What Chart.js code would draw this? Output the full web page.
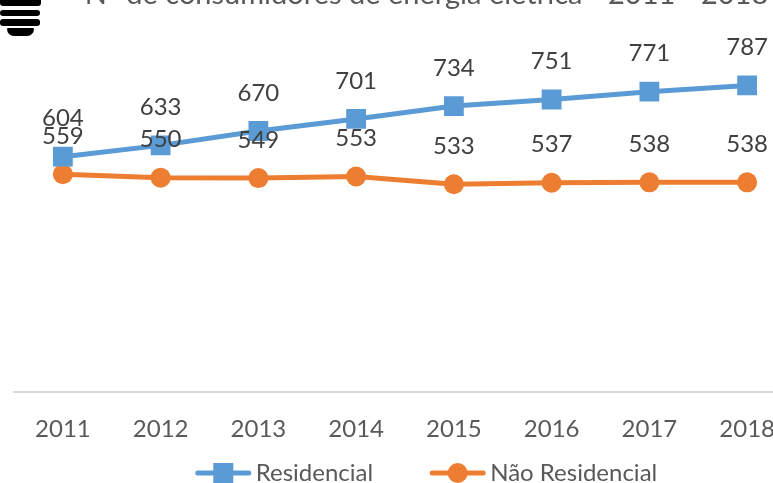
<!DOCTYPE html>
<html>
<head>
<meta charset="utf-8">
<script src="https://cdn.jsdelivr.net/npm/chart.js@4/dist/chart.umd.min.js"></script>
<style>
  html, body { margin: 0; padding: 0; background: #ffffff; overflow: hidden; }
  body { width: 773px; height: 483px; position: relative; }
  #wrap { position: absolute; left: 0; top: -30px; width: 853px; height: 513px; }
  .menu { position: absolute; background: #000; }
</style>
</head>
<body>
<div id="wrap"><canvas id="chart"></canvas></div>
<div class="menu" style="left:0;top:0;width:41px;height:6px;border-radius:0 0 3px 3px;"></div>
<div class="menu" style="left:0;top:10px;width:40px;height:6px;border-radius:3px;"></div>
<div class="menu" style="left:0;top:19px;width:40px;height:7px;border-radius:3px;"></div>
<div class="menu" style="left:7px;top:28px;width:27px;height:8px;border-radius:2px 2px 13px 13px;"></div>
<script>
const titleText = 'N° de consumidores de energia elétrica - 2011 - 2018';
const years = ['2011', '2012', '2013', '2014', '2015', '2016', '2017', '2018'];
const residencial = [604, 633, 670, 701, 734, 751, 771, 787];
const naoResidencial = [559, 550, 549, 553, 533, 537, 538, 538];
const seriesNames = ['Residencial', 'Não Residencial'];

const BLUE = '#5b9bd5';
const ORANGE = '#ed7d31';
const FONT = 'Lato';

// chart title, centred on the full canvas width
const centredTitle = {
  id: 'centredTitle',
  afterDraw(chart) {
    const ctx = chart.ctx;
    ctx.save();
    ctx.font = '29px ' + FONT;
    ctx.fillStyle = '#595959';
    ctx.textAlign = 'center';
    ctx.textBaseline = 'alphabetic';
    ctx.fillText(titleText, chart.width / 2, 33.5);
    ctx.restore();
  }
};

// value labels above each marker
const valueLabels = {
  id: 'valueLabels',
  afterDatasetsDraw(chart) {
    const ctx = chart.ctx;
    ctx.save();
    ctx.font = '24px ' + FONT;
    ctx.fillStyle = '#404040';
    ctx.textAlign = 'center';
    ctx.textBaseline = 'middle';
    chart.data.datasets.forEach((ds, i) => {
      const meta = chart.getDatasetMeta(i);
      meta.data.forEach((pt, j) => {
        ctx.fillText(String(ds.data[j]), pt.x, pt.y - 38);
      });
    });
    ctx.restore();
  }
};

// legend entries drawn as line + marker, centred under the chart
const lineLegend = {
  id: 'lineLegend',
  afterDraw(chart) {
    const ctx = chart.ctx;
    ctx.save();
    ctx.font = '24px ' + FONT;
    const lineLen = 55, gapText = 5, gapItem = 57;
    const items = chart.data.datasets.map(ds => ({
      ds, w: lineLen + gapText + ctx.measureText(ds.label).width
    }));
    const total = items.reduce((s, it) => s + it.w, 0) + gapItem * (items.length - 1);
    let x = chart.width / 2 - total / 2;
    const y = 503;
    items.forEach(it => {
      const ds = it.ds;
      ctx.strokeStyle = ds.borderColor;
      ctx.lineWidth = 5;
      ctx.lineCap = 'round';
      ctx.beginPath();
      ctx.moveTo(x + 2, y);
      ctx.lineTo(x + lineLen - 2, y);
      ctx.stroke();
      ctx.fillStyle = ds.borderColor;
      const cx = x + lineLen / 2;
      if (ds.pointStyle === 'rect') {
        ctx.fillRect(cx - 10, y - 10, 20, 20);
      } else {
        ctx.beginPath();
        ctx.arc(cx, y, 10, 0, Math.PI * 2);
        ctx.fill();
      }
      ctx.fillStyle = '#595959';
      ctx.textAlign = 'left';
      ctx.textBaseline = 'middle';
      ctx.fillText(ds.label, x + lineLen + gapText, y);
      x += it.w + gapItem;
    });
    ctx.restore();
  }
};

new Chart(document.getElementById('chart'), {
  type: 'line',
  data: {
    labels: years,
    datasets: [
      {
        label: seriesNames[0],
        data: residencial,
        borderColor: BLUE,
        backgroundColor: BLUE,
        borderWidth: 5,
        pointStyle: 'rect',
        pointRadius: 14,
        pointHoverRadius: 14,
        pointBorderWidth: 0,
        tension: 0
      },
      {
        label: seriesNames[1],
        data: naoResidencial,
        borderColor: ORANGE,
        backgroundColor: ORANGE,
        borderWidth: 5,
        pointStyle: 'circle',
        pointRadius: 10,
        pointHoverRadius: 10,
        pointBorderWidth: 0,
        tension: 0
      }
    ]
  },
  options: {
    responsive: true,
    maintainAspectRatio: false,
    animation: false,
    events: [],
    layout: { padding: { left: 14, right: 57, top: 71.5, bottom: 16.5 } },
    plugins: {
      legend: { display: false },
      tooltip: { enabled: false },
      title: { display: false }
    },
    scales: {
      x: {
        offset: true,
        grid: { display: false, drawTicks: false },
        border: { display: true, color: '#d9d9d9', width: 2 },
        ticks: {
          color: '#595959',
          font: { family: FONT, size: 24 },
          padding: 23,
          maxRotation: 0,
          autoSkip: false
        }
      },
      y: {
        display: false,
        min: 0,
        max: 900
      }
    }
  },
  plugins: [valueLabels, lineLegend, centredTitle]
});
</script>
</body>
</html>
